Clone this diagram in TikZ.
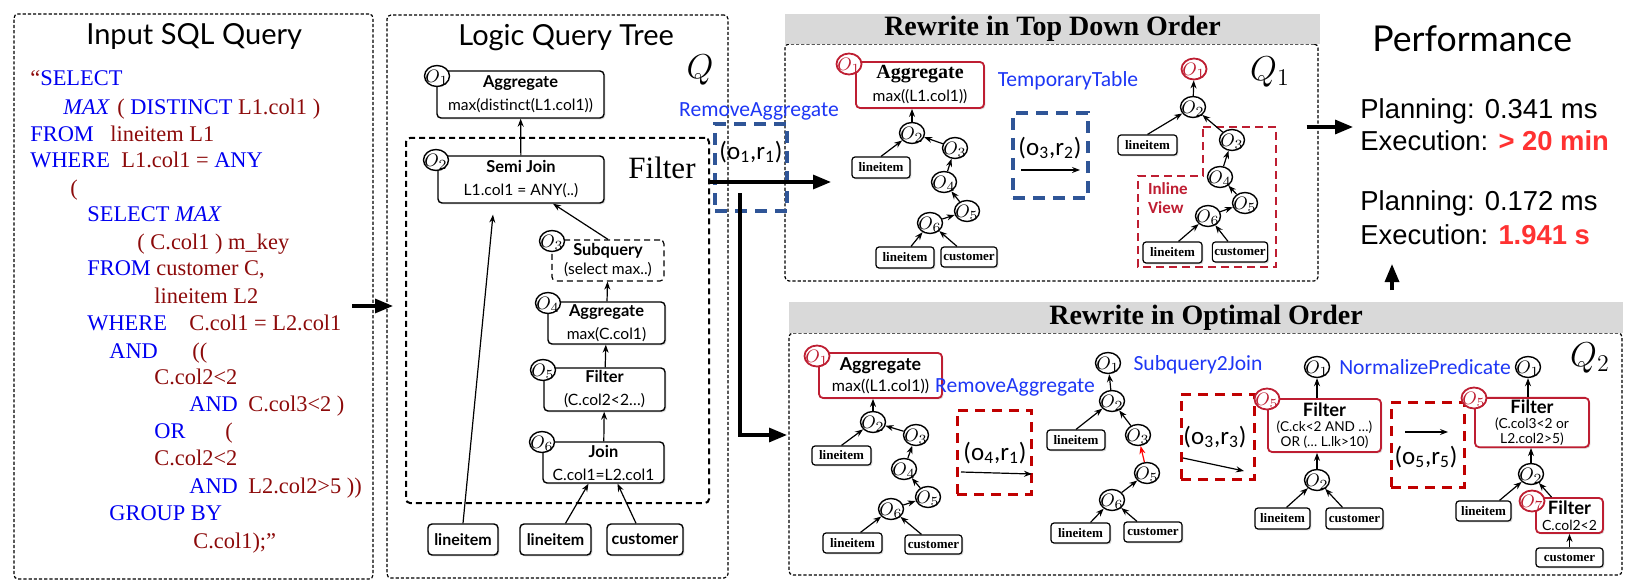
\documentclass[tikz,border=0pt]{standalone}
\usepackage{fontspec}
\setmainfont{Liberation Serif}
\newfontfamily\latofont{Lato}
\newfontfamily\carlfont{Carlito}
\newfontfamily\arialfont{Liberation Sans}
\usepackage{tikz}
\usetikzlibrary{arrows.meta, positioning, shapes.geometric, shadows}

\definecolor{sqlblue}{RGB}{0,0,240}
\definecolor{sqlred}{RGB}{140,10,10}
\definecolor{rulblue}{RGB}{30,55,245}
\definecolor{boxblue}{RGB}{47,85,151}
\definecolor{boxred}{RGB}{192,0,0}
\definecolor{opred}{RGB}{190,30,50}
\definecolor{perfred}{RGB}{255,50,50}
\definecolor{hdrgrey}{RGB}{217,217,217}

\newcommand{\sqlkw}[1]{\textcolor{sqlblue}{#1}}
\newcommand{\sqlid}[1]{\textcolor{sqlred}{#1}}
\newcommand{\opn}[1]{\makebox[0pt]{$O_{#1}$}}
\newcommand{\optext}[3][8.2]{{\bfseries\fontsize{#1}{#1}\selectfont #2}\\#3}
\newcommand{\orpair}[2]{(o\textsubscript{#1},r\textsubscript{#2})}

\begin{document}
\begin{tikzpicture}[x=0.5pt, y=-0.5pt]
        % Styles
        \tikzset{sz/.style 2 args={minimum width=#1*0.5pt, minimum height=#2*0.5pt}}
        \tikzstyle{panel} = [draw, line width=0.6pt, dash pattern=on 1.6pt off 1pt, rounded corners=2pt, inner sep=0pt]
        \tikzstyle{hdr} = [fill=hdrgrey, inner sep=0pt, font=\bfseries\fontsize{14}{16}\selectfont]
        \tikzstyle{opbox} = [draw, line width=0.7pt, rounded corners=2pt, fill=white, align=center, inner sep=1pt,
                             drop shadow={shadow xshift=0.7pt, shadow yshift=-0.7pt, opacity=0.3}]
        \tikzstyle{mop} = [opbox, font=\latofont\fontsize{7.8}{11.5}\selectfont]
        \tikzstyle{redop} = [opbox, draw=opred, line width=0.9pt]
        \tikzstyle{opc} = [ellipse, draw, line width=0.7pt, fill=white, inner sep=0pt, minimum width=12.5pt,
                           minimum height=10.5pt, text height=6.4pt, text depth=0pt, font=\fontsize{9.5}{10}\selectfont]
        \tikzstyle{opcred} = [opc, draw=opred, text=opred, line width=0.9pt]
        \tikzstyle{mleaf} = [opbox, font=\latofont\bfseries\fontsize{8}{9}\selectfont]
        \tikzstyle{sleaf} = [opbox, line width=0.6pt, rounded corners=1.5pt, font=\bfseries\fontsize{6.5}{7}\selectfont]
        \tikzstyle{sql} = [anchor=base west, inner sep=0pt, font=\fontsize{11.2}{13}\selectfont]
        \tikzstyle{title} = [anchor=base west, inner sep=0pt, font=\latofont\fontsize{14.5}{16}\selectfont]
        \tikzstyle{rule} = [text=rulblue, font=\carlfont\fontsize{10.8}{12}\selectfont]
        \tikzstyle{rboxblue} = [draw=boxblue, line width=1.6pt, dash pattern=on 6pt off 4pt]
        \tikzstyle{rboxred} = [draw=boxred, line width=1.5pt, dash pattern=on 5pt off 3.5pt]
        \tikzstyle{pair} = [font=\carlfont\fontsize{12.5}{14}\selectfont]
        \tikzstyle{perf} = [anchor=base west, inner sep=0pt, font=\arialfont\fontsize{13.7}{16}\selectfont]
        \tikzstyle{arr} = [-{Stealth[length=4pt, width=3pt]}, line width=0.6pt]
        \tikzstyle{bigarr} = [-{Triangle[length=9pt, width=7pt]}, line width=1.6pt]

        \useasboundingbox (0,0) rectangle (1638,583);

        % Input SQL query panel
        \node[panel, sz={359}{565}] (sqlpanel) at (193.5,296.5) {};
        \node[title] (sqltitle) at (86,45) {Input SQL Query};
        \node[sql] (sq1) at (30,86) {\sqlid{``}\sqlkw{SELECT}};
        \node[sql] (sq2) at (63,115) {\makebox[27pt][l]{\sqlkw{\textit{MAX}}}\sqlid{(} \sqlkw{DISTINCT} \sqlid{L1.col1 )}};
        \node[sql] (sq3) at (30,141) {\makebox[40pt][l]{\sqlkw{FROM}}\sqlid{lineitem L1}};
        \node[sql] (sq4) at (30,168) {\makebox[45.5pt][l]{\sqlkw{WHERE}}\sqlid{L1.col1 =} \sqlkw{ANY}};
        \node[sql] (sq5) at (70,195) {\sqlid{(}};
        \node[sql] (sq6) at (87,221) {\sqlkw{SELECT \textit{MAX}}};
        \node[sql] (sq7) at (137,249) {\sqlid{( C.col1 ) m\_key}};
        \node[sql] (sq8) at (87,275) {\makebox[34.5pt][l]{\sqlkw{FROM}}\sqlid{customer C,}};
        \node[sql] (sq9) at (154,303) {\sqlid{lineitem L2}};
        \node[sql] (sq10) at (87,330) {\makebox[51pt][l]{\sqlkw{WHERE}}\sqlid{C.col1 = L2.col1}};
        \node[sql] (sq11) at (109,358) {\makebox[41.5pt][l]{\sqlkw{AND}}\sqlid{((}};
        \node[sql] (sq12) at (154,384) {\sqlid{C.col2<2}};
        \node[sql] (sq13) at (189,411) {\makebox[29.5pt][l]{\sqlkw{AND}}\sqlid{C.col3<2 )}};
        \node[sql] (sq14) at (154,438) {\makebox[35.5pt][l]{\sqlkw{OR}}\sqlid{(}};
        \node[sql] (sq15) at (154,465) {\sqlid{C.col2<2}};
        \node[sql] (sq16) at (189,493) {\makebox[29.5pt][l]{\sqlkw{AND}}\sqlid{L2.col2>5 ))}};
        \node[sql] (sq17) at (109,520) {\sqlkw{GROUP BY}};
        \node[sql] (sq18) at (193,548) {\sqlid{C.col1);''}};

        % Logic query tree panel
        \node[panel, sz={341}{563}] (lqt) at (557.5,296.5) {};
        \node[title] (lqttitle) at (458,46) {Logic Query Tree};
        \node[font=\fontsize{17}{18}\selectfont] (qlab) at (700,70) {$Q$};
        \node[draw, line width=1pt, dash pattern=on 3pt off 2pt, rounded corners=2pt, sz={303}{365}] (mfilt) at (557.5,320.5) {};
        \node[anchor=base west, inner sep=0pt, font=\fontsize{15.5}{16}\selectfont] (mfiltlab) at (628,178) {Filter};

        \node[mop, sz={167}{47}] (magg) at (520.5,94.5) {\optext{Aggregate}{max(distinct(L1.col1))}};
        \node[mop, sz={166}{47}] (msj) at (521,179.5) {\optext{Semi Join}{L1.col1 = ANY(..)}};
        \node[draw, line width=0.6pt, dash pattern=on 3pt off 2pt, rounded corners=2pt, fill=white, align=center,
              inner sep=1pt, font=\latofont\fontsize{7.8}{9.5}\selectfont, sz={112}{41}] (msq) at (608,260.5) {\optext{Subquery}{(select max..)}};
        \node[mop, sz={117}{42}] (magg2) at (606.5,323) {\optext{Aggregate}{max(C.col1)}};
        \node[mop, sz={121}{43}] (mflt) at (604.5,389.5) {\optext{Filter}{(C.col2<2\dots)}};
        \node[mop, sz={121}{41}] (mjoin) at (603.5,462.5) {\optext{Join}{C.col1=L2.col1}};
        \node[opc] (mo1) at (437,76) {\opn{1}};
        \node[opc] (mo2) at (436,160) {\opn{2}};
        \node[opc] (mo3) at (552,241) {\opn{3}};
        \node[opc] (mo4) at (548,303) {\opn{4}};
        \node[opc] (mo5) at (543,370) {\opn{5}};
        \node[opc] (mo6) at (542,442) {\opn{6}};
        \node[mleaf, sz={70}{31}] (mli1) at (463,539.5) {lineitem};
        \node[mleaf, sz={71}{31}] (mli2) at (555.5,539.5) {lineitem};
        \node[mleaf, sz={76}{31}] (mcu) at (645,539.5) {customer};

        \draw[arr] (msj) -- (magg);
        \draw[arr] (msq.north) -- ([xshift=16pt]msj.south);
        \draw[arr] (magg2) -- (msq);
        \draw[arr] (mflt) -- (magg2);
        \draw[arr] (mjoin) -- (mflt);
        \draw[arr] (mli1.north) -- ([xshift=-14pt,yshift=-5.5pt]msj.south);
        \draw[arr] ([xshift=5pt]mli2.north) -- ([xshift=-7.5pt]mjoin.south);
        \draw[arr] ([xshift=-4.5pt]mcu.north) -- ([xshift=7pt]mjoin.south);

        % Rewrite in top down order
        \node[panel, sz={533}{237}] (tdbox) at (1051.5,162.5) {};
        \node[hdr, sz={535}{30}] (tdhdr) at (1052.5,29) {Rewrite in Top Down Order};
        \node[rule] (ra1) at (759,111) {RemoveAggregate};
        \node[rboxblue, sz={72}{87}] (rb1) at (751,167.5) {};
        \node[pair] (rb1lab) at (751,152) {\orpair{1}{1}};

        \node[redop, font=\latofont\fontsize{7.8}{11.5}\selectfont, sz={128}{46}] (t1agg) at (920,85)
              {{\rmfamily\bfseries\fontsize{10}{10}\selectfont Aggregate}\\max((L1.col1))};
        \node[opcred] (t1o1) at (849,64) {\opn{1}};
        \node[opc] (t1o2) at (912,133) {\opn{2}};
        \node[opc] (t1o3) at (955,148) {\opn{3}};
        \node[opc] (t1o4) at (944,182) {\opn{4}};
        \node[opc] (t1o5) at (967,211) {\opn{5}};
        \node[opc] (t1o6) at (930,223) {\opn{6}};
        \node[sleaf, sz={58}{21}] (t1l1) at (881,167.5) {lineitem};
        \node[sleaf, sz={58}{21}] (t1l2) at (905,257.5) {lineitem};
        \node[sleaf, sz={56}{20}] (t1cu) at (969,257) {customer};
        \draw[arr] (t1o2) -- (t1o2 |- t1agg.south);
        \draw[arr] (t1l1.north) -- (t1o2);
        \draw[arr] (t1o3) -- (t1o2);
        \draw[arr] (t1o4) -- (t1o3);
        \draw[arr] (t1o5) -- (t1o4);
        \draw[arr] (t1o6) -- (t1o5);
        \draw[arr] ([xshift=3pt]t1l2.north) -- (t1o6);
        \draw[arr] ([xshift=-6pt]t1cu.north) -- (t1o6);

        \node[rule] (ra2) at (1068,81) {TemporaryTable};
        \node[rboxblue, sz={75}{85}] (rb2) at (1050.5,155.5) {};
        \node[pair] (rb2lab) at (1050,148) {\orpair{3}{2}};
        \coordinate (rb2a) at (1021,170);
        \coordinate (rb2b) at (1080,170);
        \draw[arr] (rb2a) -- (rb2b);

        % Inline view region
        \draw[opred, line width=1pt, dash pattern=on 4pt off 2.5pt] (1203,127) -- (1276,127) -- (1276,267)
              -- (1138,267) -- (1138,176) -- (1203,176) -- cycle;
        \node[anchor=west, align=left, text=opred, font=\carlfont\bfseries\fontsize{8.5}{9.5}\selectfont] (ivlab) at (1141,198.5) {Inline\\View};

        \node[opcred] (t2o1) at (1194,69) {\opn{1}};
        \node[opc] (t2o2) at (1193,107) {\opn{2}};
        \node[opc] (t2o3) at (1232,140) {\opn{3}};
        \node[opc] (t2o4) at (1220,177) {\opn{4}};
        \node[opc] (t2o5) at (1245,203) {\opn{5}};
        \node[opc] (t2o6) at (1208,216) {\opn{6}};
        \node[sleaf, sz={59}{20}] (t2l1) at (1147.5,145) {lineitem};
        \node[sleaf, sz={59}{21}] (t2l2) at (1172.5,252.5) {lineitem};
        \node[sleaf, sz={54}{20}] (t2cu) at (1240,252) {customer};
        \draw[arr] (t2o2) -- (t2o1);
        \draw[arr] (t2l1.north) -- (t2o2);
        \draw[arr] (t2o3) -- (t2o2);
        \draw[arr] (t2o4) -- (t2o3);
        \draw[arr] (t2o5) -- (t2o4);
        \draw[arr] (t2o6) -- (t2o5);
        \draw[arr] ([xshift=3pt]t2l2.north) -- (t2o6);
        \draw[arr] ([xshift=-6pt]t2cu.north) -- (t2o6);
        \node[font=\fontsize{17}{18}\selectfont] (q1lab) at (1270,72) {$Q_1$};

        % Performance
        \node[anchor=base west, inner sep=0pt, font=\latofont\fontsize{17.8}{20}\selectfont] (perftitle) at (1372,52) {Performance};
        \node[perf] (pl1) at (1360,119) {Planning: 0.341 ms};
        \node[perf] (ex1) at (1360,150) {Execution: \textcolor{perfred}{\bfseries > 20 min}};
        \node[perf] (pl2) at (1360,210) {Planning: 0.172 ms};
        \node[perf] (ex2) at (1360,244) {Execution: \textcolor{perfred}{\bfseries 1.941 s}};

        % Rewrite in optimal order
        \node[panel, sz={833}{242}] (optbox) at (1205.5,454) {};
        \node[hdr, sz={834}{31}] (opthdr) at (1206,317.5) {Rewrite in Optimal Order};

        \node[redop, font=\latofont\fontsize{8}{10.5}\selectfont, sz={123}{45}] (bAagg) at (880.5,375.5) {\optext[8.9]{Aggregate}{max((L1.col1))}};
        \node[opcred] (bAo1) at (817,356) {\opn{1}};
        \node[opc] (bAo2) at (873,422) {\opn{2}};
        \node[opc] (bAo3) at (916,435) {\opn{3}};
        \node[opc] (bAo4) at (904,469) {\opn{4}};
        \node[opc] (bAo5) at (928,497) {\opn{5}};
        \node[opc] (bAo6) at (891,509) {\opn{6}};
        \node[sleaf, sz={59}{19}] (bAl1) at (841.5,455.5) {lineitem};
        \node[sleaf, sz={59}{20}] (bAl2) at (852.5,543) {lineitem};
        \node[sleaf, sz={57}{19}] (bAcu) at (933.5,544.5) {customer};
        \draw[arr] (bAo2) -- (bAo2 |- bAagg.south);
        \draw[arr] (bAl1.north) -- (bAo2);
        \draw[arr] (bAo3) -- (bAo2);
        \draw[arr] (bAo4) -- (bAo3);
        \draw[arr] (bAo5) -- (bAo4);
        \draw[arr] (bAo6) -- (bAo5);
        \draw[arr] ([xshift=4pt]bAl2.north) -- (bAo6);
        \draw[arr] ([xshift=-6pt]bAcu.north) -- (bAo6);

        \node[rule] (ra3) at (1015,387) {RemoveAggregate};
        \node[rboxred, sz={74}{84}] (rb3) at (994,452) {};
        \node[pair] (rb3lab) at (995,453) {\orpair{4}{1}};
        \coordinate (rb3a) at (961,472);
        \coordinate (rb3b) at (1032,474);
        \draw[arr] (rb3a) -- (rb3b);

        \node[opc] (bBo1) at (1108,363) {\opn{1}};
        \node[opc] (bBo2) at (1112,401) {\opn{2}};
        \node[opc] (bBo3) at (1138,435) {\opn{3}};
        \node[opc] (bBo5) at (1147,473) {\opn{5}};
        \node[opc] (bBo6) at (1112,500) {\opn{6}};
        \node[sleaf, sz={58}{20}] (bBl1) at (1076,440) {lineitem};
        \node[sleaf, sz={59}{20}] (bBl2) at (1080.5,533) {lineitem};
        \node[sleaf, sz={58}{20}] (bBcu) at (1153,532) {customer};
        \draw[arr] (bBo2) -- (bBo1);
        \draw[arr] (bBl1.north) -- (bBo2);
        \draw[arr] (bBo3) -- (bBo2);
        \draw[arr, red] (bBo5) -- (bBo3);
        \draw[arr] (bBo6) -- (bBo5);
        \draw[arr] ([xshift=5pt]bBl2.north) -- (bBo6);
        \draw[arr] ([xshift=-8pt]bBcu.north) -- (bBo6);

        \node[rule] (ra4) at (1198,365) {Subquery2Join};
        \node[rboxred, sz={73}{85}] (rb4) at (1217.5,436.5) {};
        \node[pair] (rb4lab) at (1215,437) {\orpair{3}{3}};
        \coordinate (rb4a) at (1183,458);
        \coordinate (rb4b) at (1244,471);
        \draw[arr] (rb4a) -- (rb4b);

        \node[redop, font=\latofont\fontsize{6.8}{7.6}\selectfont, sz={113}{53}] (bCf) at (1324.5,425.5)
              {\optext[9.2]{Filter}{(C.ck<2 AND \dots)\\OR (\dots\ L.lk>10)}};
        \node[opcred] (bCo5) at (1267,399) {\opn{5}};
        \node[opc] (bCo1) at (1317,367) {\opn{1}};
        \node[opc] (bCo2) at (1317,480) {\opn{2}};
        \node[sleaf, sz={55}{21}] (bCl1) at (1282.5,518.5) {lineitem};
        \node[sleaf, sz={57}{21}] (bCcu) at (1354.5,518.5) {customer};
        \draw[arr] (bCo1 |- bCf.north) -- (bCo1);
        \draw[arr] (bCo2) -- (bCo2 |- bCf.south);
        \draw[arr] ([xshift=2pt]bCl1.north) -- (bCo2);
        \draw[arr] ([xshift=-6pt]bCcu.north) -- (bCo2);

        \node[rule] (ra5) at (1425,367) {NormalizePredicate};
        \node[rboxred, sz={73}{85}] (rb5) at (1427.5,444.5) {};
        \node[pair] (rb5lab) at (1426,457) {\orpair{5}{5}};
        \coordinate (rb5a) at (1405,432);
        \coordinate (rb5b) at (1448,432);
        \draw[arr] (rb5a) -- (rb5b);

        \node[redop, font=\latofont\fontsize{6.9}{7.4}\selectfont, sz={114}{49}] (bDf) at (1532,422.5)
              {\optext[9.2]{Filter}{(C.col3<2 or\\L2.col2>5)}};
        \node[opcred] (bDo5) at (1474,398) {\opn{5}};
        \node[opc] (bDo1) at (1528,367) {\opn{1}};
        \node[opc] (bDo2) at (1531,474) {\opn{2}};
        \node[sleaf, sz={55}{20}] (bDl1) at (1483.5,511) {lineitem};
        \node[redop, font=\latofont\fontsize{7}{8}\selectfont, sz={67}{35}] (bDf7) at (1569.5,515.5) {\optext[9.2]{Filter}{C.col2<2}};
        \node[opcred] (bDo7) at (1532,501) {\opn{7}};
        \node[sleaf, sz={67}{19}] (bDcu) at (1569.5,557.5) {customer};
        \draw[arr] (bDo1 |- bDf.north) -- (bDo1);
        \draw[arr] (bDo2) -- (bDo2 |- bDf.south);
        \draw[arr] ([xshift=8pt]bDl1.north) -- (bDo2);
        \draw[arr] ([xshift=-9pt]bDf7.north) -- (bDo2);
        \draw[arr] (bDcu) -- (bDf7);
        \node[font=\fontsize{17}{18}\selectfont] (q2lab) at (1590,358) {$Q_2$};

        % Big connectors between panels
        \coordinate (sqla) at (352,306);
        \coordinate (sqlb) at (393,306);
        \draw[bigarr] (sqla) -- (sqlb);
        \coordinate (tdtip) at (831,182);
        \draw[bigarr] (mfilt.east |- tdtip) -- (tdtip);
        \coordinate (optstart) at (740,193);
        \coordinate (opttip) at (787,435);
        \draw[bigarr] (optstart) |- (opttip);
        \coordinate (perfa) at (1353,127);
        \draw[bigarr] ([xshift=-6pt]tdbox.east |- perfa) -- (perfa);
        \coordinate (upb) at (1392,290);
        \coordinate (upa) at (1392,264);
        \draw[bigarr] (upb) -- (upa);
\end{tikzpicture}
\end{document}
